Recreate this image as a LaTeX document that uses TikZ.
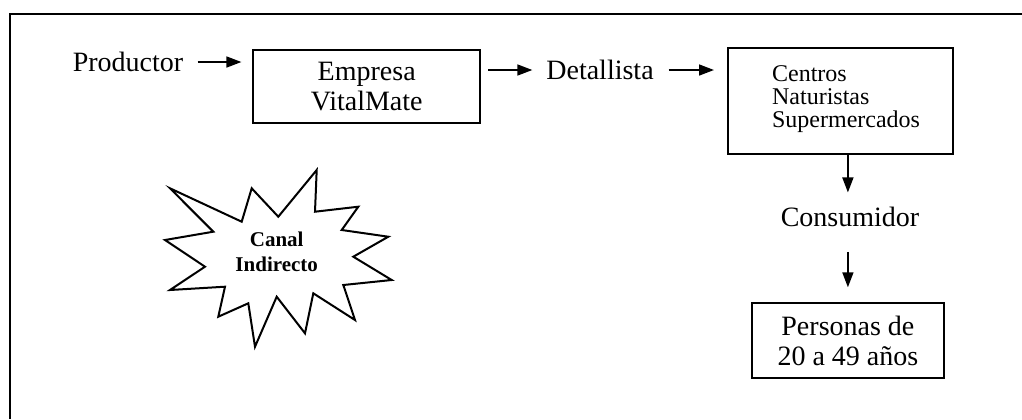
\documentclass[tikz,border=0pt]{standalone}
\usepackage{fontspec}
\setmainfont{Liberation Serif}
\usetikzlibrary{arrows.meta}
\begin{document}
\begin{tikzpicture}[x=0.5pt,y=-0.5pt,
  lbl/.style={inner sep=0pt, font=\fontsize{14}{15}\selectfont},
  boxed/.style={draw, line width=1pt, inner sep=0pt, align=center,
                font=\fontsize{14}{15}\selectfont},
  arr/.style={line width=0.8pt, -{Triangle[length=7.5pt,width=5.5pt]}},
  burst/.style={draw, line width=1pt, line join=miter},
]
\useasboundingbox (0,0) rectangle (1022,419);

% frame (top and left edges)
\draw[line width=1.3pt] (10,419) -- (10,14) -- (1022,14);

% top row
\node[lbl] (prod) at (128,62) {Productor};
\node[boxed, minimum width=113.3pt, minimum height=36.7pt] (emp) at (366.7,86.7)
  {Empresa\\VitalMate};
\node[lbl] (det) at (600,70) {Detallista};
\node[draw, line width=1pt, minimum width=112.5pt, minimum height=53pt, inner sep=0pt]
  (cen) at (840.5,101) {};
\node[anchor=north west, inner sep=0pt, align=left,
      font=\fontsize{12}{11.5}\selectfont] (centxt) at (771.7,65)
  {Centros\\Naturistas\\Supermercados};

% right column
\node[lbl] (con) at (850,216.7) {Consumidor};
\node[boxed, minimum width=96.2pt, minimum height=37.8pt] (per) at (847.9,340.5)
  {Personas de\\20 a 49 años};

% connectors
\draw[arr, shorten <=7pt, shorten >=5.5pt] (prod.east) -- (prod.east -| emp.west);
\draw[arr, shorten <=3.5pt, shorten >=6.8pt] (det.west -| emp.east) -- (det.west);
\draw[arr, shorten <=7.3pt, shorten >=6.5pt] (det.east) -- (det.east -| cen.west);
\draw[arr, shorten >=7pt] (per.north |- cen.south) -- (per.north |- con.north);
\draw[arr, shorten <=12.5pt, shorten >=7.2pt] (per.north |- con.south) -- (per.north);

% starburst
\draw[burst] (170,188.3) -- (241.7,221.7) -- (251.7,188.3) -- (278.3,216.7)
  -- (316.7,170) -- (315,211.7) -- (358.3,206.7) -- (341.7,230)
  -- (388.3,236.7) -- (353.3,256.7) -- (391.7,280) -- (343.3,285)
  -- (355,320) -- (313.3,293.3) -- (305,333.3) -- (276.7,296.7)
  -- (255,346.7) -- (248.3,303.3) -- (218.3,316.7) -- (225,286.7)
  -- (170,290) -- (205,266.7) -- (165,240) -- (213.3,231.7) -- cycle;
\node[inner sep=0pt, align=center, font=\fontsize{10.5}{12.5}\selectfont\bfseries]
  (canal) at (276.7,252) {Canal\\Indirecto};
\end{tikzpicture}
\end{document}
